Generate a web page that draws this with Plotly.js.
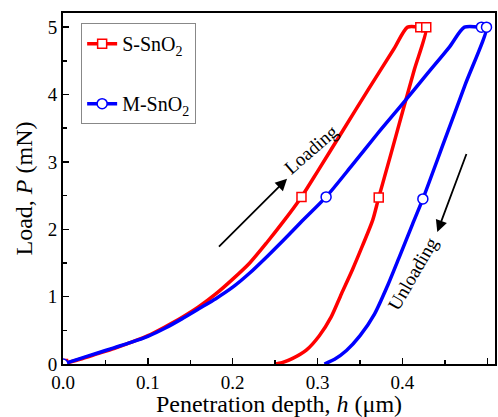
<!DOCTYPE html>
<html>
<head>
<meta charset="utf-8">
<script src="https://cdn.plot.ly/plotly-3.0.1.min.js"></script>
<style>html,body{margin:0;padding:0;background:#fff;}#chart{width:498px;height:417px;}</style>
</head>
<body>
<div id="chart"></div>
<script>
// S-SnO2 curve: loading, hold, unloading (h in µm, P in mN)
const sH = [0, 0.02, 0.04, 0.06, 0.08, 0.10, 0.12, 0.14, 0.16, 0.18, 0.20, 0.22, 0.24, 0.26, 0.281, 0.30, 0.33, 0.36, 0.39, 0.406,
            0.421, 0.428,
            0.414, 0.400, 0.386, 0.372, 0.365, 0.353, 0.341, 0.328, 0.316, 0.302, 0.287, 0.270, 0.258, 0.249];
const sP = [0, 0.07, 0.15, 0.23, 0.32, 0.42, 0.55, 0.69, 0.85, 1.04, 1.26, 1.50, 1.80, 2.12, 2.48, 2.86, 3.47, 4.08, 4.68, 5.0,
            5.0, 5.0,
            4.37, 3.74, 3.10, 2.47, 2.14, 1.76, 1.40, 1.04, 0.70, 0.42, 0.21, 0.08, 0.02, 0];
// S-SnO2 marked points
const sMarkH = [0, 0.281, 0.421, 0.428, 0.372];
const sMarkP = [0, 2.48, 5.0, 5.0, 2.47];

// M-SnO2 curve
const mH = [0, 0.02, 0.04, 0.06, 0.08, 0.10, 0.12, 0.14, 0.16, 0.18, 0.20, 0.22, 0.24, 0.26, 0.28, 0.31, 0.34, 0.37, 0.40, 0.43, 0.455, 0.473,
            0.493, 0.499,
            0.474, 0.449, 0.424, 0.412, 0.396, 0.382, 0.367, 0.350, 0.334, 0.320, 0.308];
const mP = [0, 0.08, 0.16, 0.24, 0.32, 0.41, 0.53, 0.67, 0.82, 0.97, 1.14, 1.35, 1.59, 1.84, 2.10, 2.48, 2.94, 3.41, 3.86, 4.32, 4.70, 5.0,
            5.0, 5.0,
            4.15, 3.30, 2.45, 2.08, 1.58, 1.15, 0.74, 0.42, 0.20, 0.07, 0];
const mMarkH = [0, 0.310, 0.493, 0.499, 0.424];
const mMarkP = [0, 2.48, 5.0, 5.0, 2.45];

const seriesNames = ['S-SnO<sub>2</sub>', 'M-SnO<sub>2</sub>'];
const xTicks = [0, 0.1, 0.2, 0.3, 0.4, 0.5];
const yTicks = [0, 1, 2, 3, 4, 5];

const RED = '#ff0000', BLUE = '#0000ff';
const FONT = 'Liberation Serif, Times New Roman, serif';

const traces = [
  {x: sH, y: sP, mode: 'lines', line: {color: RED, width: 3.5, shape: 'spline', smoothing: 0.7}, showlegend: false, hoverinfo: 'skip'},
  {x: sMarkH, y: sMarkP, mode: 'markers', showlegend: false,
   marker: {symbol: 'square', size: 9, color: '#ffffff', line: {color: RED, width: 1.5}}},
  {x: mH, y: mP, mode: 'lines', line: {color: BLUE, width: 3.5, shape: 'spline', smoothing: 0.7}, showlegend: false, hoverinfo: 'skip'},
  {x: mMarkH, y: mMarkP, mode: 'markers', showlegend: false,
   marker: {symbol: 'circle', size: 10, color: '#ffffff', line: {color: BLUE, width: 1.5}}},
  {x: [null], y: [null], mode: 'lines+markers', name: seriesNames[0], legendgroup: 'a',
   line: {color: RED, width: 3.5},
   marker: {symbol: 'square', size: 9, color: '#ffffff', line: {color: RED, width: 1.5}}},
  {x: [null], y: [null], mode: 'lines+markers', name: seriesNames[1], legendgroup: 'b',
   line: {color: BLUE, width: 3.5},
   marker: {symbol: 'circle', size: 10, color: '#ffffff', line: {color: BLUE, width: 1.5}}}
];

const layout = {
  width: 498, height: 417,
  margin: {l: 63, r: 3, t: 13, b: 53},
  paper_bgcolor: '#ffffff', plot_bgcolor: '#ffffff',
  font: {family: FONT, color: '#000000', size: 19},
  showlegend: true,
  legend: {
    x: 0.042, y: 0.971, xanchor: 'left', yanchor: 'top',
    bgcolor: '#ffffff', bordercolor: '#888888', borderwidth: 1,
    font: {family: FONT, size: 20, color: '#000'},
    tracegroupgap: 31, traceorder: 'grouped'
  },
  xaxis: {
    range: [0, 0.509], tickvals: xTicks, ticktext: xTicks.map(v => v.toFixed(1)),
    ticks: 'inside', ticklen: 6, tickwidth: 1.5, tickcolor: '#000',
    minor: {dtick: 0.05, ticks: 'inside', ticklen: 4, tickwidth: 1.5, tickcolor: '#000'},
    showline: true, linewidth: 2, linecolor: '#000', mirror: true,
    showgrid: false, zeroline: false,
    tickfont: {family: FONT, size: 19},
    title: {text: 'Penetration depth, <i>h</i> (μm)', font: {family: FONT, size: 24}, standoff: 4}
  },
  yaxis: {
    range: [0, 5.21], tickvals: yTicks,
    ticks: 'inside', ticklen: 6, tickwidth: 1.5, tickcolor: '#000',
    minor: {dtick: 0.5, ticks: 'inside', ticklen: 4, tickwidth: 1.5, tickcolor: '#000'},
    showline: true, linewidth: 2, linecolor: '#000', mirror: true,
    showgrid: false, zeroline: false,
    tickfont: {family: FONT, size: 19},
    title: {text: 'Load, <i>P</i> (mN)', font: {family: FONT, size: 24}, standoff: 8}
  },
  annotations: [
    {x: 0.292, y: 3.19, xref: 'x', yref: 'y', text: 'Loading', showarrow: false, textangle: -41,
     font: {family: FONT, size: 19}},
    {x: 0.264, y: 2.75, ax: 0.182, ay: 1.72, xref: 'x', yref: 'y', axref: 'x', ayref: 'y',
     text: '', showarrow: true, arrowhead: 2, arrowsize: 1.3, arrowwidth: 1.8, arrowcolor: '#000'},
    {x: 0.412, y: 1.35, xref: 'x', yref: 'y', text: 'Unloading', showarrow: false, textangle: -60,
     font: {family: FONT, size: 19}},
    {x: 0.441, y: 1.96, ax: 0.476, ay: 3.14, xref: 'x', yref: 'y', axref: 'x', ayref: 'y',
     text: '', showarrow: true, arrowhead: 2, arrowsize: 1.3, arrowwidth: 1.8, arrowcolor: '#000'}
  ]
};

Plotly.newPlot('chart', traces, layout, {displayModeBar: false, staticPlot: true});
</script>
</body>
</html>
